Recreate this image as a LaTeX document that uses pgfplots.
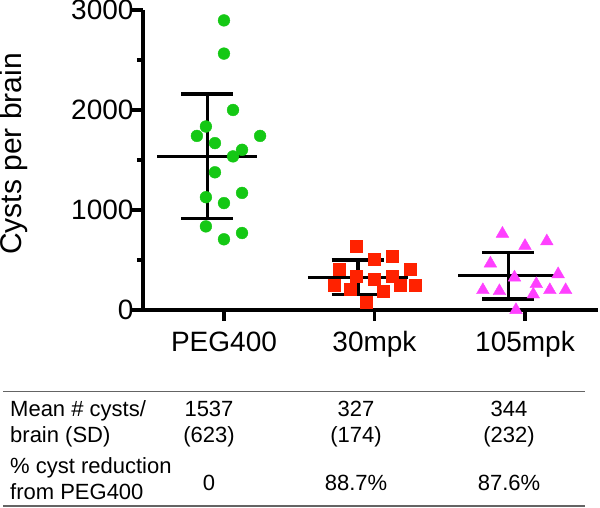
\documentclass[border=0pt]{standalone}
\usepackage{fontspec}
\setmainfont{Liberation Sans}
\usepackage{pgfplots}
\usepackage{pgfplotstable}
\pgfplotsset{compat=1.18}

\definecolor{dotgreen}{RGB}{20,200,20}
\definecolor{sqred}{RGB}{255,34,0}
\definecolor{trimag}{RGB}{255,64,255}
\definecolor{rulegray}{RGB}{100,100,100}

% cysts per brain, x = group position + jitter
\pgfplotstableread{
x y
0.00 2896
0.00 2564
0.06 2000
-0.12 1835
-0.18 1741
-0.06 1669
0.24 1741
0.12 1602
0.06 1536
-0.06 1377
-0.12 1128
0.12 1171
0.00 1069
-0.12 836
0.12 770
0.00 707
}\peg

\pgfplotstableread{
x y
0.880 637
1.000 507
1.120 541
0.765 408
0.880 342
1.000 308
1.120 342
1.240 408
0.730 243
0.840 209
1.055 183
1.170 243
1.270 243
0.945 74
}\thirty

\pgfplotstableread{
x y
1.850 763
2.145 687
2.000 641
1.770 465
1.930 325
2.220 358
2.075 259
1.720 199
1.830 189
2.165 199
2.270 199
2.055 156
1.940 0
}\hundred

\newcommand{\tabfont}{\fontsize{22bp}{26bp}\selectfont}

\begin{document}
\begin{tikzpicture}
\path[use as bounding box] (0,0) rectangle (600bp,508bp);
\begin{axis}[
  at={(143bp,198bp)}, anchor=south west,
  scale only axis, width=455bp, height=300bp,
  xmin=-0.538, xmax=2.485, ymin=0, ymax=3000,
  axis x line=bottom, axis y line=left,
  axis line style={-, line width=4bp},
  xtick={0,1,2}, xticklabels={PEG400,30mpk,105mpk},
  ytick={0,1000,2000,3000}, minor ytick={500,1500,2500},
  major tick length=11bp, minor tick length=6bp,
  tick align=outside,
  tick style={line width=3.5bp, black},
  every tick label/.append style={font=\fontsize{28bp}{33bp}\selectfont},
  xticklabel style={yshift=-7bp},
  yticklabel style={xshift=5bp},
  /pgf/number format/assume math mode=true,
  /pgf/number format/1000 sep={},
  ylabel={Cysts per brain},
  ylabel style={at={(axis description cs:-0.283,0.52)}, anchor=center,
    font=\fontsize{30bp}{36bp}\selectfont},
  clip=false,
]
\addplot[only marks, mark=*, mark size=5.9bp, color=dotgreen] table[x=x, y=y] {\peg};
\addplot[only marks, mark=square*, mark size=6bp, color=sqred] table[x=x, y=y] {\thirty};
\addplot[only marks, mark=triangle*, mark size=7.3bp, color=trimag] table[x=x, y=y] {\hundred};

% mean lines
\addplot[black, line width=3.5bp] coordinates {(-0.443,1537) (0.221,1537)};
\addplot[black, line width=3.5bp] coordinates {(0.557,327) (1.221,327)};
\addplot[black, line width=3.5bp] coordinates {(1.557,344) (2.221,344)};
% SD bars
\addplot[black, line width=3.5bp] coordinates {(-0.111,914) (-0.111,2160)};
\addplot[black, line width=3.5bp] coordinates {(-0.284,2160) (0.062,2160)};
\addplot[black, line width=3.5bp] coordinates {(-0.284,914) (0.062,914)};
\addplot[black, line width=3.5bp] coordinates {(0.889,153) (0.889,501)};
\addplot[black, line width=3.5bp] coordinates {(0.716,501) (1.062,501)};
\addplot[black, line width=3.5bp] coordinates {(0.716,153) (1.062,153)};
\addplot[black, line width=3.5bp] coordinates {(1.889,112) (1.889,576)};
\addplot[black, line width=3.5bp] coordinates {(1.716,576) (2.062,576)};
\addplot[black, line width=3.5bp] coordinates {(1.716,112) (2.062,112)};
\end{axis}

% summary table under the plot
\draw[rulegray, line width=1.2bp] (3bp,116.3bp) -- (585bp,116.3bp);
\draw[rulegray, line width=1.2bp] (3bp,2bp) -- (585bp,2bp);
\node[anchor=base west, inner sep=0] at (10bp,91.3bp) {\tabfont Mean \# cysts/};
\node[anchor=base west, inner sep=0] at (10bp,65.3bp) {\tabfont brain (SD)};
\node[anchor=base west, inner sep=0] at (10bp,34.7bp) {\tabfont \% cyst reduction};
\node[anchor=base west, inner sep=0] at (10bp,9bp) {\tabfont from PEG400};
\node[anchor=base, inner sep=0] at (209bp,91.3bp) {\tabfont 1537};
\node[anchor=base, inner sep=0] at (209bp,65.3bp) {\tabfont (623)};
\node[anchor=base, inner sep=0] at (209bp,18bp) {\tabfont 0};
\node[anchor=base, inner sep=0] at (356bp,91.3bp) {\tabfont 327};
\node[anchor=base, inner sep=0] at (356bp,65.3bp) {\tabfont (174)};
\node[anchor=base, inner sep=0] at (356bp,18bp) {\tabfont 88.7\%};
\node[anchor=base, inner sep=0] at (509bp,91.3bp) {\tabfont 344};
\node[anchor=base, inner sep=0] at (509bp,65.3bp) {\tabfont (232)};
\node[anchor=base, inner sep=0] at (509bp,18bp) {\tabfont 87.6\%};
\end{tikzpicture}
\end{document}
